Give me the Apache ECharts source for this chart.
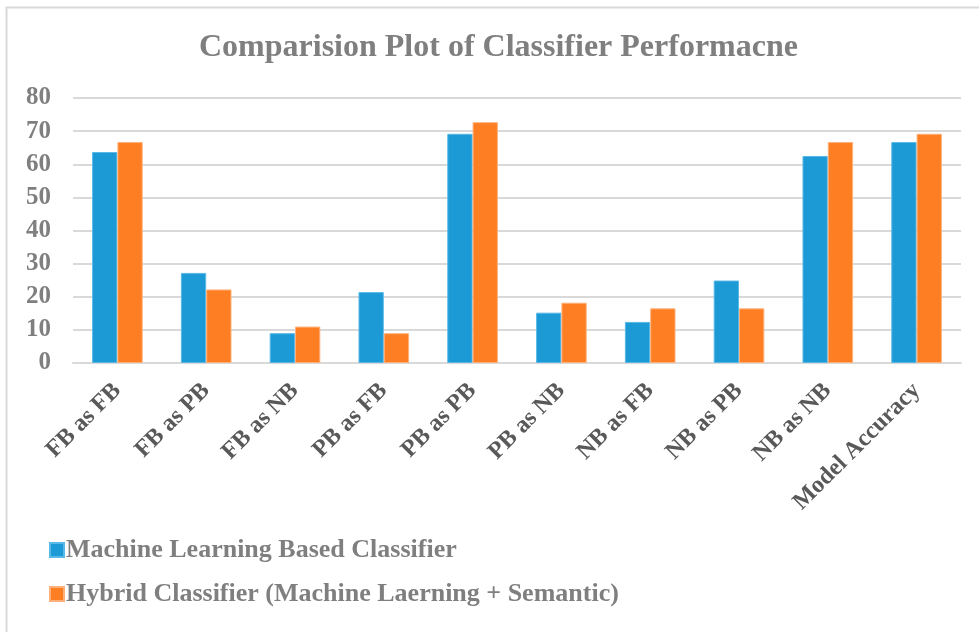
<!DOCTYPE html>
<html>
<head>
<meta charset="utf-8">
<script src="https://cdn.jsdelivr.net/npm/echarts@6/dist/echarts.min.js"></script>
<style>
html,body{margin:0;padding:0;background:#fff;}
#c{width:979px;height:632px;}
</style>
</head>
<body>
<div id="c"></div>
<script>
var categories = ["FB as FB","FB as PB","FB as NB","PB as FB","PB as PB","PB as NB","NB as FB","NB as PB","NB as NB","Model Accuracy"];
var mlValues = [63.7, 27.2, 9.0, 21.4, 69.2, 15.2, 12.4, 24.9, 62.5, 66.7];
var hybridValues = [66.7, 22.2, 11.0, 9.0, 72.7, 18.2, 16.5, 16.5, 66.7, 69.2];
var seriesNames = ["Machine Learning Based Classifier", "Hybrid Classifier (Machine Laerning + Semantic)"];
var yTicks = [0, 10, 20, 30, 40, 50, 60, 70, 80];

var gray = '#7f7f7f';
var serif = '"Liberation Serif", "Times New Roman", serif';
var chart = echarts.init(document.getElementById('c'));
chart.setOption({
  backgroundColor: '#ffffff',
  animation: false,
  graphic: [{
    type: 'rect',
    shape: {x: 6.5, y: 7.5, width: 1000, height: 700},
    style: {fill: 'none', stroke: '#d9d9d9', lineWidth: 2},
    silent: true
  }],
  title: {
    text: 'Comparision Plot of Classifier Performacne',
    left: 194,
    top: 27,
    textStyle: {fontFamily: serif, fontWeight: 'bold', fontSize: 32, color: gray}
  },
  legend: {
    orient: 'vertical',
    left: 44,
    top: 532,
    itemWidth: 14,
    itemHeight: 14,
    itemGap: 18,
    icon: 'rect',
    textStyle: {fontFamily: serif, fontWeight: 'bold', fontSize: 26, color: gray, padding: [0,0,0,-3]},
    data: seriesNames
  },
  grid: {left: 73, right: 18, top: 98, bottom: 269, containLabel: false},
  xAxis: {
    type: 'category',
    data: categories,
    axisLine: {show: true, lineStyle: {color: '#d9d9d9', width: 2}},
    axisTick: {show: false},
    axisLabel: {
      rotate: 45, interval: 0, margin: 24,
      fontFamily: serif, fontWeight: 'bold', fontSize: 24, color: '#595959'
    }
  },
  yAxis: {
    type: 'value',
    min: 0, max: 80, interval: 10,
    axisLine: {show: false},
    axisTick: {show: false},
    splitLine: {lineStyle: {color: '#d9d9d9', width: 2}},
    axisLabel: {
      margin: 22,
      fontFamily: serif, fontWeight: 'bold', fontSize: 25, color: gray,
      formatter: function (v) { return yTicks.indexOf(v) >= 0 ? String(v) : ''; }
    }
  },
  series: [{
    name: seriesNames[0],
    type: 'bar',
    data: mlValues,
    barGap: '0%',
    barCategoryGap: '43%',
    itemStyle: {color: '#1b9ad6', borderColor: '#5ab8e6', borderWidth: 1}
  }, {
    name: seriesNames[1],
    type: 'bar',
    data: hybridValues,
    itemStyle: {color: '#fe7f23', borderColor: '#ffb07a', borderWidth: 1}
  }]
});
</script>
</body>
</html>
